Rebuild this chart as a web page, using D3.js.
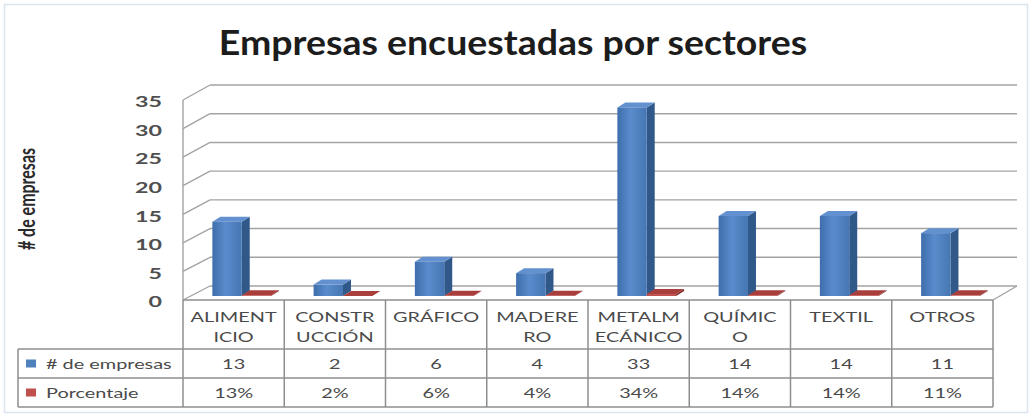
<!DOCTYPE html>
<html>
<head>
<meta charset="utf-8">
<script src="https://cdn.jsdelivr.net/npm/d3@7"></script>
<style>
  html, body { margin: 0; padding: 0; background: #fff; }
  svg { display: block; font-family: Lato, "Open Sans", sans-serif; }
</style>
</head>
<body>
<svg id="chart" width="1032" height="416"></svg>
<script>
// Survey data: companies interviewed per industrial sector
const categories = ["ALIMENTICIO", "CONSTRUCCIÓN", "GRÁFICO", "MADERERO", "METALMECÁNICO", "QUÍMICO", "TEXTIL", "OTROS"];
const categoryLines = [["ALIMENT", "ICIO"], ["CONSTR", "UCCIÓN"], ["GRÁFICO"], ["MADERE", "RO"], ["METALM", "ECÁNICO"], ["QUÍMIC", "O"], ["TEXTIL"], ["OTROS"]];
const empresas = [13, 2, 6, 4, 33, 14, 14, 11];
const porcentaje = [0.13, 0.02, 0.06, 0.04, 0.34, 0.14, 0.14, 0.11];
const yTicks = [0, 5, 10, 15, 20, 25, 30, 35];
const seriesNames = ["# de empresas", "Porcentaje"];
const seriesColors = ["#4f81bd", "#c0504d"];

const svg = d3.select("#chart");
const textColor = "#4a4a4a";
const gridColor = "#a3a3a3";
const tableColor = "#8e8e8e";
const SX = 1.42; // horizontal stretch of the chart lettering

// Front plane (axis + table) and back wall of the 3-D box
const xFront = d3.scaleBand().domain(categories).range([183, 993]);
const xBack = d3.scaleBand().domain(categories).range([210, 1017]);
const yFront = d3.scaleLinear().domain([0, 35]).range([300, 100]);
const yBack = d3.scaleLinear().domain([0, 35]).range([286, 85]);
const yBar = d3.scaleLinear().domain([0, 35]).range([296, 96]);
const bw = xFront.bandwidth();

// Outer frame
svg.append("rect")
  .attr("x", 4.5).attr("y", 4.5).attr("width", 1023).attr("height", 408)
  .attr("fill", "none").attr("stroke", "#dbe5f1").attr("stroke-width", 1.5);

function stretchedText(parent, x, y, str, opts = {}) {
  return parent.append("text")
    .attr("transform", `translate(${x},${y}) scale(${opts.sx || SX},1)` + (opts.rotate ? ` rotate(${opts.rotate})` : ""))
    .attr("text-anchor", opts.anchor || "middle")
    .attr("dominant-baseline", opts.baseline || "central")
    .attr("font-size", opts.size || 14)
    .attr("font-weight", opts.weight || 400)
    .attr("fill", opts.fill || textColor)
    .text(str);
}

// Title
stretchedText(svg, 513, 55, "Empresas encuestadas por sectores",
  { size: 35, weight: 700, fill: "#1c1c1c", sx: 1.07, baseline: "alphabetic" });

// Y axis title
stretchedText(svg, 26, 199, "# de empresas", { rotate: -90, size: 16, weight: 700, fill: "#2a2a2a", sx: 1.45 });

// Back wall gridlines and left wall diagonals
const x0b = xBack.range()[0], x1b = xBack.range()[1];
const x0f = xFront.range()[0], x1f = xFront.range()[1];
const grid = svg.append("g").attr("stroke", gridColor).attr("stroke-width", 1.4).attr("fill", "none");
yTicks.forEach(v => {
  grid.append("line").attr("x1", x0b).attr("x2", x1b).attr("y1", yBack(v)).attr("y2", yBack(v));
  grid.append("line").attr("x1", x0f).attr("x2", x0b).attr("y1", yFront(v)).attr("y2", yBack(v));
});
// Front vertical axis line
grid.append("line").attr("x1", x0f).attr("x2", x0f).attr("y1", yFront(0)).attr("y2", yFront(35));
// Right floor edge
grid.append("line").attr("x1", x1f).attr("x2", x1b).attr("y1", yFront(0)).attr("y2", yBack(0));

// Tick labels
yTicks.forEach(v => {
  stretchedText(svg, 162, yFront(v) + 1.5, String(v), { anchor: "end", size: 15, sx: 1.55, fill: "#505050", weight: 700 });
});

// 3-D columns
const defs = svg.append("defs");
const gBlue = defs.append("linearGradient").attr("id", "blueFront").attr("x1", 0).attr("x2", 1).attr("y1", 0).attr("y2", 0);
gBlue.append("stop").attr("offset", "0%").attr("stop-color", "#3e6eac");
gBlue.append("stop").attr("offset", "45%").attr("stop-color", "#5a8bcb");
gBlue.append("stop").attr("offset", "100%").attr("stop-color", "#4677b4");

const depthDx = 8, depthDy = -5;
const blueStart = 0.29, redStart = 0.58, barFrac = 0.29;

function drawColumn(g, x, w, v, front, side, top) {
  const yb = yBar(0), yt = yBar(v);
  g.append("polygon")
    .attr("points", [[x + w, yb], [x + w + depthDx, yb + depthDy], [x + w + depthDx, yt + depthDy], [x + w, yt]].join(" "))
    .attr("fill", side);
  g.append("polygon")
    .attr("points", [[x, yt], [x + w, yt], [x + w + depthDx, yt + depthDy], [x + depthDx, yt + depthDy]].join(" "))
    .attr("fill", top);
  g.append("rect")
    .attr("x", x).attr("y", yt).attr("width", w).attr("height", Math.max(0, yb - yt))
    .attr("fill", front);
}

const bars = svg.append("g");
categories.forEach((c, i) => {
  const left = xFront(c);
  drawColumn(bars, left + blueStart * bw, barFrac * bw, empresas[i], "url(#blueFront)", "#30598a", "#6391cf");
  drawColumn(bars, left + redStart * bw, barFrac * bw, porcentaje[i], "#c0504d", "#7d2a28", "#a93f3c");
});

// Data table
const rowTop = yFront(0), rowCat = 349, rowVal = 378, rowPct = 407, legendLeft = 18;
const table = svg.append("g").attr("stroke", tableColor).attr("stroke-width", 1.5).attr("fill", "none");
table.append("line").attr("x1", x0f).attr("x2", x1f).attr("y1", rowTop).attr("y2", rowTop);
[rowCat, rowVal, rowPct].forEach(y => {
  table.append("line").attr("x1", legendLeft).attr("x2", x1f).attr("y1", y).attr("y2", y);
});
categories.forEach(c => {
  table.append("line").attr("x1", xFront(c)).attr("x2", xFront(c)).attr("y1", rowTop).attr("y2", rowPct);
});
table.append("line").attr("x1", x1f).attr("x2", x1f).attr("y1", rowTop).attr("y2", rowPct);
table.append("line").attr("x1", legendLeft).attr("x2", legendLeft).attr("y1", rowCat).attr("y2", rowPct);

const pct = d3.format(".0%");
categories.forEach((c, i) => {
  const cx = xFront(c) + bw / 2;
  categoryLines[i].forEach((line, j) => {
    stretchedText(svg, cx, 317 + j * 20, line, { size: 14 });
  });
  stretchedText(svg, cx, (rowCat + rowVal) / 2, String(empresas[i]), { size: 14 });
  stretchedText(svg, cx, (rowVal + rowPct) / 2, pct(porcentaje[i]), { size: 14 });
});

// Legend keys inside the table
seriesNames.forEach((name, i) => {
  const cy = i === 0 ? (rowCat + rowVal) / 2 : (rowVal + rowPct) / 2;
  svg.append("rect").attr("x", 26).attr("y", cy - 4).attr("width", 10).attr("height", 8).attr("fill", seriesColors[i]);
  stretchedText(svg, 46, cy, name, { anchor: "start", size: 14 });
});
</script>
</body>
</html>
